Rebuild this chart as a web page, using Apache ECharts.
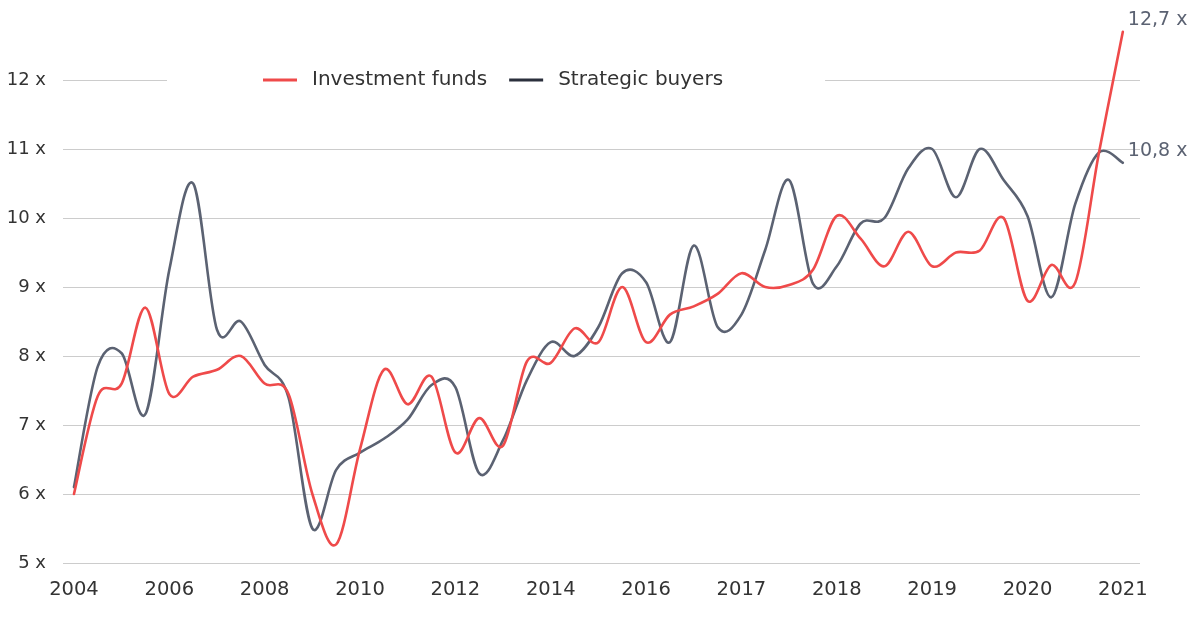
<!DOCTYPE html>
<html><head><meta charset="utf-8">
<script src="https://cdn.jsdelivr.net/npm/echarts@6/dist/echarts.min.js"></script>
<style>html,body{margin:0;padding:0;background:#fff}#c{width:1200px;height:617px}</style>
</head><body><div id="c"></div>
<script>
const tickLabels = ['2004','2006','2008','2010','2012','2014','2016','2017','2018','2019','2020','2021'];
const pointsPerTick = 4;
const investmentFunds = [6.0, 7.42, 7.6, 8.7, 7.45, 7.7, 7.8, 8.0, 7.6, 7.45, 6.0, 5.27, 6.65, 7.8, 7.3, 7.7, 6.6, 7.1, 6.7, 7.92, 7.9, 8.4, 8.2, 9.0, 8.2, 8.6, 8.72, 8.9, 9.2, 9.0, 9.03, 9.25, 10.03, 9.7, 9.3, 9.8, 9.3, 9.5, 9.53, 10.0, 8.8, 9.32, 9.06, 10.95, 12.7];
const strategicBuyers = [6.1, 7.85, 8.04, 7.16, 9.25, 10.5, 8.38, 8.5, 7.87, 7.4, 5.5, 6.35, 6.6, 6.8, 7.08, 7.58, 7.55, 6.3, 6.78, 7.65, 8.2, 8.0, 8.42, 9.2, 9.07, 8.2, 9.6, 8.42, 8.6, 9.54, 10.55, 9.05, 9.3, 9.92, 10.0, 10.72, 11.0, 10.3, 11.0, 10.55, 10.03, 8.85, 10.2, 10.95, 10.8];
const seriesNames = ['Investment funds', 'Strategic buyers'];

const FONT = 'DejaVu Sans';
const RED = '#ef4a4a', GRAY = '#5b6272';
const toPairs = arr => arr.map((v, i) => [i, v]);
const endText = v => v.toFixed(1).replace('.', ',') + ' x';

// Smooth line (Catmull-Rom spline) drawn through the chart's own coordinate system
function splineRenderer(values, color) {
  return function (params, api) {
    if (params.dataIndex !== 0) return null;
    const pts = values.map((v, i) => api.coord([i, v]));
    const n = pts.length;
    const t = 1 / 6;
    let d = 'M' + pts[0][0] + ' ' + pts[0][1];
    for (let i = 0; i < n - 1; i++) {
      const p0 = pts[Math.max(i - 1, 0)], p1 = pts[i], p2 = pts[i + 1], p3 = pts[Math.min(i + 2, n - 1)];
      const c1x = p1[0] + (p2[0] - p0[0]) * t, c1y = p1[1] + (p2[1] - p0[1]) * t;
      const c2x = p2[0] - (p3[0] - p1[0]) * t, c2y = p2[1] - (p3[1] - p1[1]) * t;
      d += ' C' + c1x + ' ' + c1y + ' ' + c2x + ' ' + c2y + ' ' + p2[0] + ' ' + p2[1];
    }
    const last = pts[n - 1];
    return {
      type: 'group',
      children: [
        {type: 'path', shape: {pathData: d}, style: {stroke: color, fill: 'none', lineWidth: 2.6, lineJoin: 'round', lineCap: 'round'}},
        {type: 'text', x: last[0] + 5, y: last[1] - 12,
         style: {text: endText(values[n - 1]), fill: GRAY, fontFamily: FONT, fontSize: 19, align: 'left', verticalAlign: 'middle'}}
      ]
    };
  };
}

const chart = echarts.init(document.getElementById('c'), null, {renderer: 'canvas'});
chart.setOption({
  backgroundColor: '#fff',
  animation: false,
  grid: {left: 63, right: 60, top: 80, bottom: 54, containLabel: false},
  legend: {
    left: 167, top: 61,
    padding: [9, 102, 9, 96],
    backgroundColor: '#fff',
    itemWidth: 34, itemHeight: 3, itemGap: 22,
    icon: 'rect',
    textStyle: {fontFamily: FONT, fontSize: 20, color: '#333', padding: [0, 0, 0, 10]},
    data: [
      {name: seriesNames[0], itemStyle: {color: RED}},
      {name: seriesNames[1], itemStyle: {color: '#2b2f3c'}}
    ]
  },
  xAxis: {
    type: 'value', min: -0.46, max: 44.72,
    axisLine: {show: false}, axisTick: {show: false}, splitLine: {show: false},
    axisLabel: {
      customValues: tickLabels.map((_, i) => i * pointsPerTick),
      formatter: v => tickLabels[Math.round(v / pointsPerTick)] || '',
      fontFamily: FONT, fontSize: 19.5, color: '#333', margin: 17
    }
  },
  yAxis: {
    type: 'value', min: 5, max: 12, interval: 1,
    axisLine: {show: false}, axisTick: {show: false},
    splitLine: {lineStyle: {color: '#cccccc', width: 1.2}},
    axisLabel: {formatter: v => v + ' x', fontFamily: FONT, fontSize: 18, color: '#333', margin: 17}
  },
  series: [
    {
      name: seriesNames[0], type: 'custom', data: toPairs(investmentFunds),
      renderItem: splineRenderer(investmentFunds, RED), clip: false, z: 3,
      itemStyle: {color: RED}, encode: {x: 0, y: 1}
    },
    {
      name: seriesNames[1], type: 'custom', data: toPairs(strategicBuyers),
      renderItem: splineRenderer(strategicBuyers, GRAY), clip: false, z: 2,
      itemStyle: {color: GRAY}, encode: {x: 0, y: 1}
    }
  ]
});
</script></body></html>
